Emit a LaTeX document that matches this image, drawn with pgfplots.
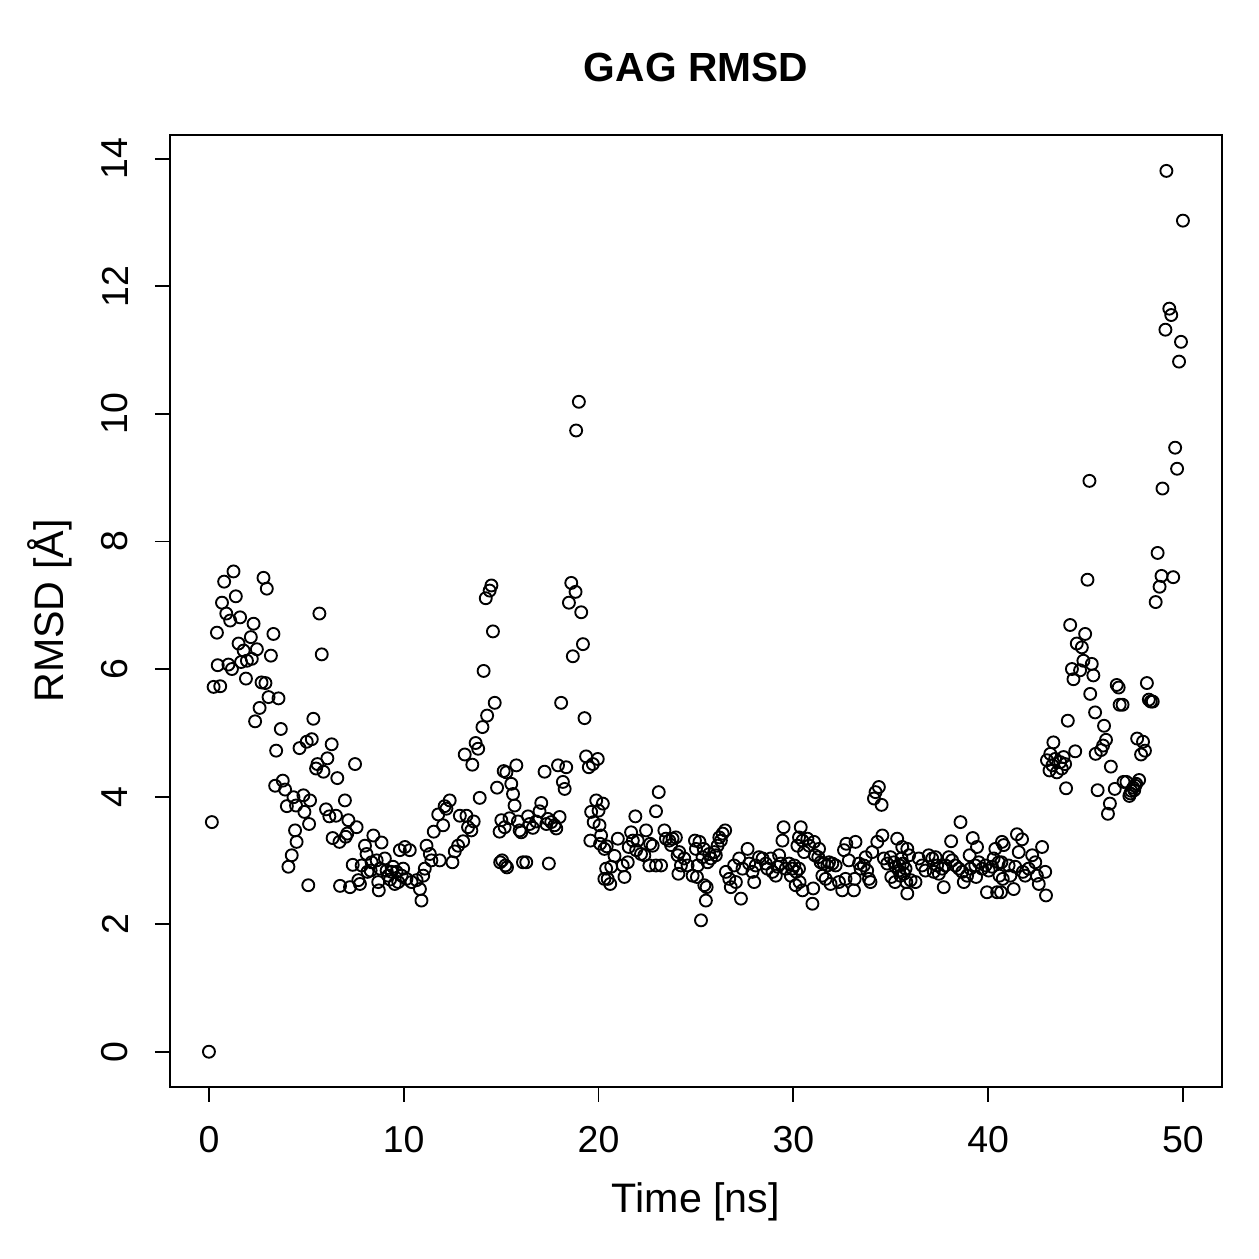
\documentclass[border=0pt]{standalone}
\usepackage{fontspec}
\setmainfont{Liberation Sans}
\usepackage{pgfplots}
\pgfplotsset{compat=1.18}
\begin{document}
\begin{tikzpicture}
\useasboundingbox (-68.05bp,-68.86bp) rectangle (435.95bp,435.14bp);
\begin{axis}[
  at={(0,0)}, anchor=south west,
  scale only axis, width=421.1bp, height=381.1bp,
  xmin=-2, xmax=52, ymin=-0.553, ymax=14.373,
  axis line style={line width=0.75bp},
  xtick={0,10,20,30,40,50}, ytick={0,2,4,6,8,10,12,14},
  tick pos=left, tick align=outside, major tick length=6bp,
  tick style={line width=0.75bp, black},
  /pgf/number format/assume math mode=true,
  ticklabel style={font=\fontsize{15bp}{18bp}\selectfont},
  xticklabel style={anchor=center, yshift=-15.2bp},
  yticklabel style={xshift=-16bp, rotate=90, anchor=center},
  every axis x label/.style={at={(axis description cs:0.5,0)}, yshift=-45.8bp, anchor=center, font=\fontsize{16.5bp}{19bp}\selectfont},
  every axis y label/.style={at={(axis description cs:0,0.5)}, xshift=-48bp, rotate=90, anchor=center, font=\fontsize{16.5bp}{19bp}\selectfont},
  every axis title/.style={at={(axis description cs:0.5,1)}, yshift=27.2bp, anchor=center, font=\bfseries\fontsize{16.3bp}{19bp}\selectfont},
  xlabel={Time [ns]}, ylabel={RMSD [Å]}, title={GAG RMSD},
]
\addplot[only marks, mark=o, mark size=2.4bp, mark options={line width=0.75bp, black}] table {
x y
0.0 0.00
0.15 3.60
0.24 5.72
0.41 6.57
0.45 6.06
0.58 5.73
0.67 7.04
0.78 7.37
0.89 6.87
1.00 6.07
1.09 6.76
1.18 6.00
1.26 7.53
1.38 7.14
1.52 6.40
1.60 6.81
1.65 6.11
1.78 6.29
1.90 5.85
1.95 6.13
2.15 6.50
2.20 6.16
2.29 6.71
2.37 5.18
2.46 6.31
2.60 5.39
2.70 5.79
2.80 7.43
2.90 5.78
2.97 7.26
3.06 5.56
3.18 6.21
3.31 6.55
3.40 4.17
3.45 4.72
3.57 5.54
3.69 5.06
3.79 4.25
3.91 4.11
4.00 3.85
4.08 2.90
4.25 3.08
4.34 3.99
4.42 3.47
4.47 3.86
4.50 3.29
4.65 4.76
4.85 4.02
4.90 3.76
5.02 4.86
5.10 2.61
5.14 3.57
5.19 3.94
5.28 4.90
5.36 5.22
5.50 4.44
5.57 4.51
5.67 6.87
5.79 6.23
5.88 4.39
6.01 3.80
6.08 4.60
6.18 3.69
6.30 4.82
6.35 3.35
6.52 3.70
6.59 4.29
6.70 3.29
6.73 2.60
6.98 3.94
7.02 3.37
7.10 3.42
7.16 3.63
7.24 2.58
7.38 2.93
7.50 4.51
7.58 3.52
7.67 2.69
7.75 2.63
7.84 2.92
8.01 3.23
8.09 3.10
8.14 2.82
8.30 2.84
8.35 2.97
8.44 3.39
8.61 3.00
8.69 2.66
8.72 2.53
8.78 2.87
8.86 3.28
9.03 3.03
9.12 2.84
9.20 2.76
9.30 2.70
9.38 2.82
9.45 2.90
9.54 2.63
9.63 2.82
9.72 2.66
9.80 3.16
9.89 2.76
9.97 2.87
10.06 3.21
10.14 2.71
10.31 3.16
10.40 2.66
10.66 2.69
10.83 2.55
10.91 2.37
11.00 2.76
11.08 2.87
11.17 3.23
11.34 3.10
11.42 3.00
11.54 3.45
11.77 3.72
11.85 3.00
12.02 3.55
12.10 3.85
12.19 3.81
12.36 3.94
12.50 2.97
12.62 3.14
12.79 3.23
12.88 3.70
13.05 3.30
13.13 4.66
13.22 3.70
13.30 3.52
13.47 3.47
13.52 4.50
13.59 3.61
13.69 4.84
13.82 4.75
13.90 3.98
14.04 5.09
14.10 5.97
14.21 7.11
14.28 5.27
14.41 7.23
14.50 7.31
14.58 6.59
14.67 5.47
14.79 4.14
14.92 3.45
14.95 2.97
15.01 3.63
15.05 3.00
15.13 4.40
15.18 3.52
15.22 2.92
15.27 4.38
15.30 2.89
15.43 3.66
15.52 4.20
15.61 4.04
15.69 3.86
15.78 4.49
15.86 3.61
15.95 3.47
16.03 3.44
16.12 2.97
16.29 2.97
16.38 3.69
16.46 3.57
16.63 3.51
16.80 3.61
16.97 3.77
17.06 3.90
17.23 4.39
17.32 3.57
17.40 3.65
17.45 2.95
17.57 3.60
17.74 3.55
17.83 3.50
17.92 4.49
18.00 3.68
18.08 5.47
18.17 4.23
18.26 4.12
18.34 4.46
18.48 7.04
18.60 7.35
18.68 6.20
18.82 7.21
18.85 9.74
18.99 10.19
19.11 6.89
19.20 6.39
19.28 5.23
19.36 4.63
19.50 4.46
19.58 3.31
19.62 3.76
19.71 4.51
19.75 3.60
19.88 3.94
19.96 4.59
20.00 3.78
20.05 3.55
20.08 3.26
20.13 3.39
20.22 3.89
20.30 3.18
20.30 2.71
20.39 2.87
20.42 3.22
20.47 2.71
20.60 2.63
20.65 2.90
20.82 3.07
20.99 3.34
21.24 2.92
21.33 2.74
21.50 2.97
21.55 3.21
21.67 3.44
21.76 3.31
21.89 3.69
21.93 3.16
22.01 3.31
22.18 3.10
22.35 3.08
22.44 3.47
22.61 2.92
22.65 3.26
22.78 3.23
22.95 2.92
22.95 3.77
23.09 4.07
23.21 2.92
23.38 3.47
23.46 3.34
23.63 3.31
23.72 3.24
23.80 3.34
23.97 3.36
24.06 3.08
24.10 2.79
24.14 3.13
24.23 2.92
24.40 3.03
24.57 2.92
24.83 2.76
24.95 3.31
25.00 3.18
25.05 2.74
25.09 2.92
25.18 3.29
25.26 2.06
25.34 3.05
25.40 3.18
25.43 2.61
25.51 2.37
25.55 2.58
25.60 2.97
25.68 3.10
25.77 3.03
25.94 3.13
26.02 3.08
26.11 3.23
26.20 3.36
26.28 3.31
26.37 3.42
26.50 3.47
26.54 2.82
26.71 2.71
26.79 2.58
26.96 2.92
27.05 2.66
27.22 3.03
27.31 2.40
27.39 2.87
27.65 3.18
27.73 2.95
27.90 2.82
27.99 2.66
28.07 2.92
28.24 3.05
28.42 3.03
28.59 2.95
28.67 2.87
28.84 3.03
28.93 2.82
29.10 2.76
29.19 2.90
29.27 3.08
29.35 2.95
29.44 3.31
29.50 3.52
29.61 2.87
29.78 2.95
29.87 2.76
29.95 2.87
30.05 2.92
30.12 2.61
30.15 2.82
30.21 3.23
30.29 2.87
30.29 3.36
30.32 2.66
30.38 3.52
30.47 2.53
30.47 3.31
30.55 3.13
30.72 3.34
30.81 3.23
30.98 2.32
31.02 2.56
31.06 3.29
31.10 3.08
31.28 3.05
31.32 3.18
31.40 2.97
31.49 2.76
31.57 2.95
31.66 2.71
31.75 2.92
31.83 2.97
31.91 2.63
32.00 2.95
32.17 2.92
32.34 2.66
32.51 2.53
32.60 3.16
32.68 2.71
32.72 3.26
32.85 3.00
33.11 2.53
33.15 2.71
33.19 3.29
33.37 2.95
33.45 2.87
33.62 2.92
33.71 3.05
33.79 2.84
33.88 2.71
33.96 2.66
34.05 3.13
34.14 3.97
34.22 4.07
34.31 3.29
34.39 4.15
34.53 3.87
34.57 3.39
34.65 3.03
34.82 2.95
34.99 3.05
35.03 2.74
35.16 2.97
35.22 2.66
35.25 2.90
35.33 3.34
35.42 2.84
35.45 2.92
35.50 2.76
35.55 3.03
35.59 3.21
35.63 2.95
35.68 2.79
35.76 2.87
35.80 2.66
35.85 3.18
35.85 2.48
35.94 3.08
36.02 2.69
36.27 2.66
36.44 3.03
36.61 2.92
36.78 2.84
36.95 3.08
37.13 3.03
37.21 2.82
37.30 3.05
37.38 2.92
37.47 2.79
37.64 2.87
37.72 2.58
37.81 2.92
37.98 3.05
38.10 3.30
38.15 3.00
38.32 2.92
38.50 2.87
38.58 3.60
38.67 2.82
38.75 2.66
38.92 2.76
39.05 3.08
39.09 2.87
39.21 3.35
39.34 2.92
39.38 2.74
39.43 3.21
39.52 2.97
39.69 2.87
39.86 2.92
39.94 2.50
40.03 2.84
40.20 2.90
40.28 3.03
40.37 3.18
40.46 2.50
40.54 2.97
40.58 2.76
40.66 2.50
40.68 2.97
40.71 3.29
40.75 2.71
40.80 3.24
41.05 2.92
41.14 2.76
41.31 2.55
41.39 2.90
41.48 3.41
41.57 3.13
41.74 3.33
41.78 2.82
41.90 2.76
42.08 2.87
42.26 3.08
42.42 2.97
42.50 2.76
42.60 2.63
42.77 3.21
42.93 2.82
42.97 2.45
43.02 4.57
43.15 4.41
43.19 4.67
43.30 4.49
43.35 4.85
43.44 4.59
43.53 4.38
43.70 4.54
43.78 4.44
43.87 4.62
43.95 4.51
44.00 4.13
44.09 5.19
44.21 6.69
44.30 6.00
44.38 5.84
44.47 4.71
44.55 6.40
44.72 5.98
44.81 6.34
44.89 6.13
44.98 6.55
45.10 7.40
45.20 8.95
45.24 5.61
45.32 6.08
45.40 5.90
45.49 5.32
45.52 4.67
45.62 4.10
45.80 4.73
45.90 4.80
45.95 5.11
46.05 4.89
46.15 3.73
46.25 3.89
46.30 4.47
46.50 4.12
46.60 5.75
46.70 5.71
46.75 5.44
46.90 5.44
46.95 4.23
47.10 4.23
47.25 4.01
47.30 4.05
47.35 4.09
47.45 4.14
47.50 4.10
47.55 4.17
47.60 4.20
47.65 4.91
47.75 4.26
47.85 4.66
47.95 4.86
48.05 4.72
48.15 5.78
48.25 5.52
48.35 5.49
48.45 5.49
48.60 7.05
48.70 7.82
48.80 7.29
48.90 7.46
48.95 8.83
49.10 11.32
49.15 13.81
49.30 11.65
49.40 11.55
49.50 7.44
49.60 9.47
49.70 9.14
49.80 10.82
49.90 11.13
50.00 13.03
};
\end{axis}
\end{tikzpicture}
\end{document}
